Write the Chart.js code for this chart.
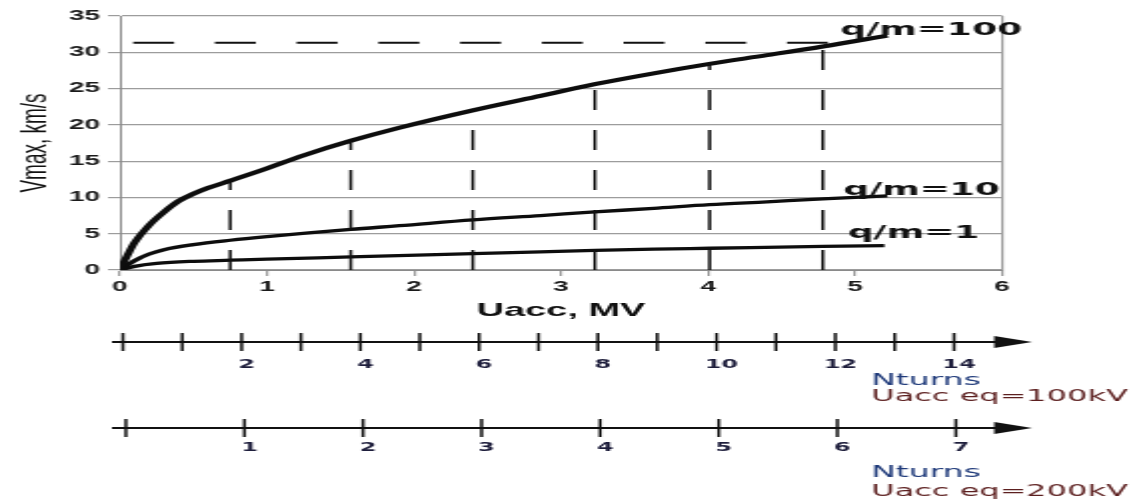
<!DOCTYPE html>
<html>
<head>
<meta charset="utf-8">
<title>Vmax vs Uacc</title>
<script src="https://cdn.jsdelivr.net/npm/chart.js@4.4.1/dist/chart.umd.min.js"></script>
<style>
  html, body { margin: 0; padding: 0; background: #fff; overflow: hidden; }
  /* the source figure is stretched about 2x sideways, so draw at half width and let css stretch it */
  #chart { display: block; width: 1147px !important; height: 504px !important; }
</style>
</head>
<body>
<canvas id="chart" width="574" height="504" style="width:1147px;height:504px"></canvas>
<script>
// Uacc (MV) -> Vmax (km/s), one pair of arrays per q/m
const uacc100 = [0, 0.05, 0.1, 0.2, 0.3, 0.4, 0.5, 0.6, 0.75, 1.0, 1.25, 1.57, 1.9, 2.4, 2.86, 3.23, 3.63, 4.01, 4.4, 4.78, 5.22];
const vmax100 = [0, 2.0, 3.8, 6.2, 8.0, 9.5, 10.5, 11.3, 12.3, 14.0, 15.8, 17.8, 19.6, 22.0, 24.0, 25.6, 27.1, 28.4, 29.6, 30.8, 32.3];

const uacc10 = [0, 0.1, 0.2, 0.3, 0.5, 0.75, 1.0, 1.57, 1.9, 2.4, 2.86, 3.23, 3.63, 4.01, 4.4, 4.78, 5.22];
const vmax10 = [0, 1.3, 2.2, 2.8, 3.5, 4.1, 4.6, 5.6, 6.1, 6.9, 7.5, 8.0, 8.5, 9.0, 9.4, 9.8, 10.2];

const uacc1 = [0, 0.1, 0.25, 0.5, 0.75, 1.0, 1.57, 2.4, 2.86, 3.23, 3.63, 4.01, 4.78, 5.2];
const vmax1 = [0, 0.5, 0.9, 1.2, 1.35, 1.5, 1.8, 2.25, 2.5, 2.7, 2.88, 3.0, 3.25, 3.35];

const curveNames = ["q/m=100", "q/m=10", "q/m=1"];

// dashed guides: verticals at every 2 turns (100 kV) up to the q/m=100 curve, and the top limit
const guideU = [0.75, 1.57, 2.40, 3.23, 4.01, 4.78];
const guideV = [12.3, 17.8, 22.0, 25.6, 28.4, 30.8];
const limitU = [0.09, 4.83];
const limitV = 31.3;

// axis ticks
const yTicks = [0, 5, 10, 15, 20, 25, 30, 35];
const xTicks = [0, 1, 2, 3, 4, 5, 6];
const turns100 = [0, 1, 2, 3, 4, 5, 6, 7, 8, 9, 10, 11, 12, 13, 14];
const turnLabels100 = [2, 4, 6, 8, 10, 12, 14];
const turns200 = [0, 1, 2, 3, 4, 5, 6, 7];
const turnLabels200 = [1, 2, 3, 4, 5, 6, 7];

const zip = (xs, ys) => xs.map((x, i) => ({ x: x, y: ys[i] }));

const curve = (label, xs, ys, width) => ({
  label: label,
  data: zip(xs, ys),
  borderColor: "#0d0d0d",
  borderWidth: width,
  pointRadius: 0,
  cubicInterpolationMode: "monotone",
  borderJoinStyle: "round",
});

const datasets = [];
guideU.forEach((u, i) => {
  datasets.push({
    label: "guide" + i,
    data: [{ x: u, y: 0 }, { x: u, y: guideV[i] }],
    borderColor: "#111",
    borderWidth: 1.5,
    borderDash: [20, 20],
    pointRadius: 0,
  });
});
datasets.push({
  label: "limit",
  data: [{ x: limitU[0], y: limitV }, { x: limitU[1], y: limitV }],
  borderColor: "#111",
  borderWidth: 2,
  borderDash: [20.5, 20.4],
  pointRadius: 0,
});
datasets.push(curve(curveNames[0], uacc100, vmax100, 4));
datasets.push(curve(curveNames[1], uacc10, vmax10, 3.3));
datasets.push(curve(curveNames[2], uacc1, vmax1, 3.3));

function numberLine(ctx, scale, y, ticks, labels, labelY, titleY) {
  ctx.save();
  ctx.strokeStyle = "#111";
  ctx.fillStyle = "#111";
  ctx.lineWidth = 2;
  ctx.beginPath();
  ctx.moveTo(56, y);
  ctx.lineTo(499, y);
  ctx.stroke();
  // arrow head
  ctx.beginPath();
  ctx.moveTo(497.5, y - 6);
  ctx.lineTo(516.5, y);
  ctx.lineTo(497.5, y + 6);
  ctx.closePath();
  ctx.fill();
  // ticks cross the line
  ctx.lineWidth = 1.5;
  ticks.forEach((t) => {
    const x = scale.getPixelForValue(t);
    ctx.beginPath();
    ctx.moveTo(x, y - 9);
    ctx.lineTo(x, y + 9);
    ctx.stroke();
  });
  ctx.font = "bold 12px 'DejaVu Sans'";
  ctx.fillStyle = "#1e1e3c";
  ctx.textAlign = "center";
  ctx.textBaseline = "middle";
  labels.forEach((t) => {
    ctx.fillText(String(t), scale.getPixelForValue(t) + 2.5, labelY);
  });
  ctx.textAlign = "left";
  ctx.textBaseline = "alphabetic";
  ctx.font = "16.5px 'DejaVu Sans'";
  ctx.fillStyle = "#1f3a7a";
  ctx.fillText("Nturns", 436, titleY[0]);
  ctx.fillStyle = "#5c1f1f";
  ctx.font = "16px 'DejaVu Sans'";
  ctx.fillText(titleY[2], 436, titleY[1]);
  ctx.restore();
}

const extras = {
  id: "extras",
  afterDraw(chart) {
    const ctx = chart.ctx;
    const x = chart.scales.x;
    const y = chart.scales.y;
    // curve names at the right end of each curve
    ctx.save();
    ctx.font = "bold 18px 'DejaVu Sans'";
    ctx.fillStyle = "#111";
    ctx.textBaseline = "alphabetic";
    ctx.fillText(curveNames[0], x.getPixelForValue(4.9), y.getPixelForValue(32.4));
    ctx.fillText(curveNames[1], x.getPixelForValue(4.92), y.getPixelForValue(10.33));
    ctx.fillText(curveNames[2], x.getPixelForValue(4.95), y.getPixelForValue(4.41));
    ctx.restore();

    numberLine(ctx, chart.scales.n100, 342, turns100, turnLabels100, 365, [385, 401, "Uacc eq=100kV"]);
    numberLine(ctx, chart.scales.n200, 428, turns200, turnLabels200, 448, [477, 496, "Uacc eq=200kV"]);
  },
};

new Chart(document.getElementById("chart"), {
  type: "line",
  data: { datasets: datasets },
  options: {
    responsive: false,
    animation: false,
    events: [],
    layout: { padding: { left: 0, right: 72.5, top: 16, bottom: 182 } },
    plugins: { legend: { display: false }, tooltip: { enabled: false } },
    scales: {
      x: {
        type: "linear",
        min: 0,
        max: 6,
        afterBuildTicks: (s) => { s.ticks = xTicks.map((v) => ({ value: v })); },
        afterFit: (s) => { s.height = 52; },
        ticks: {
          color: "#1a1a1a",
          padding: 3,
          font: { family: "'Liberation Sans', Arial", size: 14, weight: "bold" },
        },
        grid: {
          color: (c) => (c.tick && c.tick.value === 6 ? "#9c9c9c" : "rgba(0,0,0,0)"),
          tickColor: "#9c9c9c",
          tickLength: 6,
          lineWidth: 1.2,
        },
        border: { color: "#8a8a8a", width: 1 },
        title: {
          display: true,
          text: "Uacc, MV",
          color: "#111",
          padding: 0,
          font: { family: "'Liberation Sans', Arial", size: 19, weight: "bold" },
        },
      },
      y: {
        min: 0,
        max: 35,
        afterBuildTicks: (s) => { s.ticks = yTicks.map((v) => ({ value: v })); },
        afterFit: (s) => { s.width = 60; },
        ticks: {
          color: "#1a1a1a",
          padding: 4,
          font: { family: "'Liberation Sans', Arial", size: 14, weight: "bold" },
        },
        grid: { color: "#9c9c9c", tickLength: 6, lineWidth: 1.2 },
        border: { color: "#8a8a8a", width: 1 },
        title: {
          display: true,
          text: "Vmax, km/s",
          color: "#111",
          padding: { top: 6, bottom: 0 },
          font: { family: "'Liberation Sans', Arial", size: 19 },
        },
      },
      // the two Nturns rulers under the plot, drawn by the plugin
      n100: { type: "linear", axis: "x", position: "bottom", display: false, min: -0.05, max: 14.81 },
      n200: { type: "linear", axis: "x", position: "bottom", display: false, min: -0.05, max: 7.39 },
    },
  },
  plugins: [extras],
});
</script>
</body>
</html>
